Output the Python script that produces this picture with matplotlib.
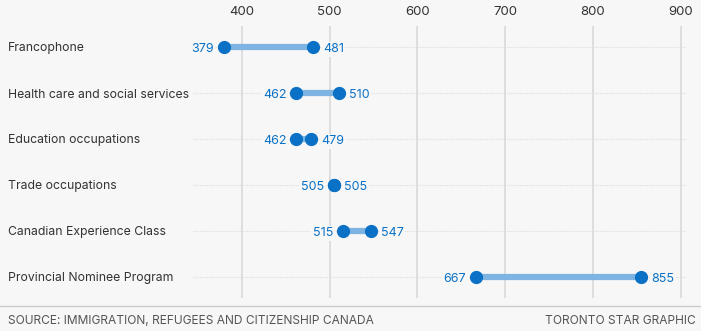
import matplotlib.pyplot as plt
from matplotlib.transforms import blended_transform_factory, offset_copy

plt.rcParams["font.family"] = ["Inter", "DejaVu Sans"]

categories = [
    "Francophone",
    "Health care and social services",
    "Education occupations",
    "Trade occupations",
    "Canadian Experience Class",
    "Provincial Nominee Program",
]
low_scores = [379, 462, 462, 505, 515, 667]
high_scores = [481, 510, 479, 505, 547, 855]
ticks = [400, 500, 600, 700, 800, 900]

BG = "#f7f7f7"
DOT = "#0a71c6"
BAR = "#7db4e2"
TEXT = "#333333"

fig = plt.figure(figsize=(7.01, 3.31), dpi=100, facecolor=BG)
ax = fig.add_axes([0, 33 / 331, 1, 272 / 331], facecolor=BG)
ax.set_xlim(124.2, 923.1)
ax.set_ylim(5 + 21 / 46, -21 / 46)

for v in ticks:
    ax.axvline(v, color="#d9d9d9", lw=1.2, zorder=0)

rows = range(len(categories))
ax.hlines(rows, 344, 906, colors="#dedede", lw=0.8, linestyles=(0, (1, 1)), zorder=0)
ax.hlines(rows, low_scores, high_scores, colors=BAR, lw=4.5, zorder=2)
ax.plot(low_scores, rows, "o", color=DOT, ms=8.5, zorder=3)
ax.plot(high_scores, rows, "o", color=DOT, ms=8.5, zorder=3)

# category names sit at a fixed pixel offset, values next to their dots
lab_tr = blended_transform_factory(fig.transFigure, ax.transData)
left_tr = offset_copy(ax.transData, fig=fig, x=-10, y=-1, units="dots")
right_tr = offset_copy(ax.transData, fig=fig, x=10, y=-1, units="dots")
for i, (name, lo, hi) in enumerate(zip(categories, low_scores, high_scores)):
    ax.text(8 / 701, i, name, transform=lab_tr, ha="left", va="center_baseline",
            fontsize=8.8, color=TEXT)
    ax.text(lo, i, str(lo), transform=left_tr, ha="right", va="center_baseline",
            fontsize=9, color=DOT, zorder=4,
            bbox=dict(facecolor=BG, edgecolor="none", pad=1))
    ax.text(hi, i, str(hi), transform=right_tr, ha="left", va="center_baseline",
            fontsize=9, color=DOT, zorder=4,
            bbox=dict(facecolor=BG, edgecolor="none", pad=1))

ax.xaxis.tick_top()
ax.set_xticks(ticks)
ax.set_xticklabels([str(t) for t in ticks])
ax.tick_params(axis="x", length=0, pad=6, labelsize=9.5, labelcolor=TEXT)
ax.set_yticks([])
for s in ax.spines.values():
    s.set_visible(False)

fig.add_artist(plt.Line2D([0, 1], [1 - 306 / 331, 1 - 306 / 331],
                          transform=fig.transFigure, color="#cccccc", lw=1))
fig.text(8 / 701, 1 - 321 / 331, "SOURCE: IMMIGRATION, REFUGEES AND CITIZENSHIP CANADA",
         ha="left", va="center", fontsize=8.6, color="#555555")
fig.text(1 - 5 / 701, 1 - 321 / 331, "TORONTO STAR GRAPHIC",
         ha="right", va="center", fontsize=8.6, color="#555555")

fig.savefig("out.png", dpi=100, facecolor=BG)
